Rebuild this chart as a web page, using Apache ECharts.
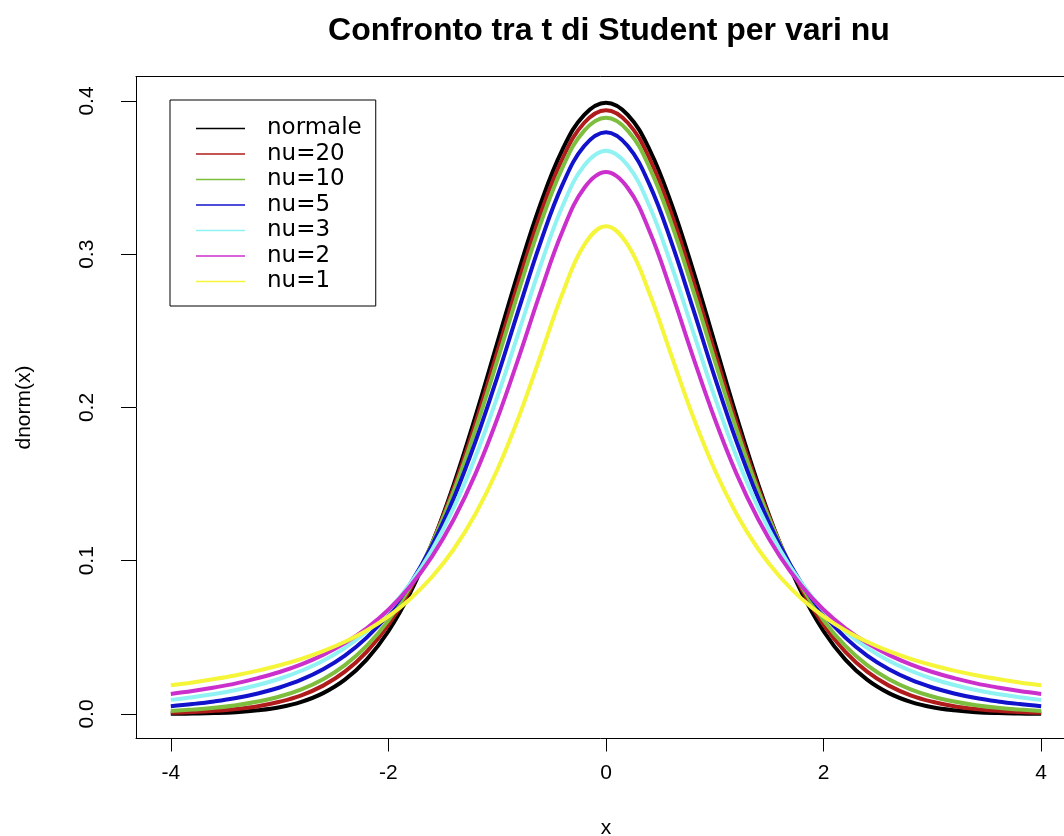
<!DOCTYPE html>
<html>
<head>
<meta charset="utf-8">
<script src="https://cdn.jsdelivr.net/npm/echarts@6/dist/echarts.min.js"></script>
<style>
  html, body { margin: 0; padding: 0; background: #ffffff; overflow: hidden; }
  #chart { width: 1064px; height: 836px; }
</style>
</head>
<body>
<div id="chart"></div>
<script>
// Sample points along x
const xs = [-4,-3.8,-3.6,-3.4,-3.2,-3,-2.8,-2.6,-2.4,-2.2,-2,-1.8,-1.6,-1.4,-1.2,-1,-0.8,-0.6,-0.4,-0.2,0,
            0.2,0.4,0.6,0.8,1,1.2,1.4,1.6,1.8,2,2.2,2.4,2.6,2.8,3,3.2,3.4,3.6,3.8,4];

// Density values at each sample point
const normale = [0.0001,0.0003,0.0006,0.0012,0.0024,0.0044,0.0079,0.0136,0.0224,0.0355,0.0540,0.0790,0.1109,0.1497,0.1942,0.2420,0.2897,0.3332,0.3683,0.3910,0.3989,0.3910,0.3683,0.3332,0.2897,0.2420,0.1942,0.1497,0.1109,0.0790,0.0540,0.0355,0.0224,0.0136,0.0079,0.0044,0.0024,0.0012,0.0006,0.0003,0.0001];
const nu20 = [0.0008,0.0013,0.0021,0.0033,0.0051,0.0080,0.0122,0.0185,0.0276,0.0405,0.0581,0.0814,0.1112,0.1476,0.1899,0.2361,0.2830,0.3267,0.3624,0.3858,0.3940,0.3858,0.3624,0.3267,0.2830,0.2361,0.1899,0.1476,0.1112,0.0814,0.0581,0.0405,0.0276,0.0185,0.0122,0.0080,0.0051,0.0033,0.0021,0.0013,0.0008];
const nu10 = [0.0020,0.0029,0.0040,0.0057,0.0081,0.0114,0.0161,0.0227,0.0319,0.0444,0.0611,0.0831,0.1111,0.1454,0.1857,0.2304,0.2766,0.3203,0.3566,0.3807,0.3891,0.3807,0.3566,0.3203,0.2766,0.2304,0.1857,0.1454,0.1111,0.0831,0.0611,0.0444,0.0319,0.0227,0.0161,0.0114,0.0081,0.0057,0.0040,0.0029,0.0020];
const nu5 = [0.0051,0.0065,0.0082,0.0104,0.0134,0.0173,0.0224,0.0292,0.0381,0.0498,0.0651,0.0848,0.1098,0.1407,0.1777,0.2197,0.2645,0.3081,0.3454,0.3706,0.3796,0.3706,0.3454,0.3081,0.2645,0.2197,0.1777,0.1407,0.1098,0.0848,0.0651,0.0498,0.0381,0.0292,0.0224,0.0173,0.0134,0.0104,0.0082,0.0065,0.0051];
const nu3 = [0.0092,0.0109,0.0130,0.0156,0.0189,0.0230,0.0282,0.0347,0.0431,0.0538,0.0675,0.0850,0.1070,0.1345,0.1678,0.2067,0.2497,0.2930,0.3313,0.3579,0.3676,0.3579,0.3313,0.2930,0.2497,0.2067,0.1678,0.1345,0.1070,0.0850,0.0675,0.0538,0.0431,0.0347,0.0282,0.0230,0.0189,0.0156,0.0130,0.0109,0.0092];
const nu2 = [0.0131,0.0150,0.0173,0.0200,0.0234,0.0274,0.0324,0.0386,0.0463,0.0559,0.0680,0.0834,0.1027,0.1269,0.1567,0.1925,0.2331,0.2758,0.3150,0.3432,0.3536,0.3432,0.3150,0.2758,0.2331,0.1925,0.1567,0.1269,0.1027,0.0834,0.0680,0.0559,0.0463,0.0386,0.0324,0.0274,0.0234,0.0200,0.0173,0.0150,0.0131];
const nu1 = [0.0187,0.0206,0.0228,0.0253,0.0283,0.0318,0.0360,0.0410,0.0471,0.0545,0.0637,0.0751,0.0894,0.1075,0.1305,0.1592,0.1941,0.2341,0.2744,0.3061,0.3183,0.3061,0.2744,0.2341,0.1941,0.1592,0.1305,0.1075,0.0894,0.0751,0.0637,0.0545,0.0471,0.0410,0.0360,0.0318,0.0283,0.0253,0.0228,0.0206,0.0187];

const seriesNames = ['normale', 'nu=20', 'nu=10', 'nu=5', 'nu=3', 'nu=2', 'nu=1'];
const seriesValues = [normale, nu20, nu10, nu5, nu3, nu2, nu1];
const seriesColors = ['#000000', '#B01C1C', '#7DBE3E', '#1212CC', '#90F2F2', '#CC30CC', '#F5F53A'];

const xTicks = [-4, -2, 0, 2, 4];
const yTicks = [0, 0.1, 0.2, 0.3, 0.4];

const FONT = '"Liberation Sans", Arial, Helvetica, sans-serif';
const LEGEND_FONT = '"DejaVu Sans", "Liberation Sans", Arial, sans-serif';

const chart = echarts.init(document.getElementById('chart'), null, { renderer: 'canvas' });

chart.setOption({
  backgroundColor: '#ffffff',
  animation: false,
  title: {
    text: 'Confronto tra t di Student per vari nu',
    left: 604,
    top: 10,
    textAlign: 'center',
    textStyle: { fontFamily: FONT, fontWeight: 'bold', fontSize: 32, color: '#000' }
  },
  legend: {
    orient: 'vertical',
    left: 170,
    top: 100,
    data: seriesNames,
    icon: 'rect',
    itemWidth: 49,
    itemHeight: 1.5,
    itemGap: 2.5,
    padding: [17, 14, 13, 26],
    borderColor: '#000',
    borderWidth: 1,
    backgroundColor: '#fff',
    textStyle: { fontFamily: LEGEND_FONT, fontSize: 23, color: '#000', lineHeight: 20, padding: [0, 0, 0, 17] }
  },
  grid: {
    left: 136,
    top: 76.5,
    width: 940,
    height: 662,
    show: false,
    outerBoundsMode: 'none',
    containLabel: false
  },
  xAxis: [{
    type: 'value',
    min: -4.32,
    max: 4.32,
    name: 'x',
    nameLocation: 'middle',
    nameGap: 79,
    nameTextStyle: { fontFamily: FONT, fontSize: 21, color: '#000' },
    axisLine: { show: true, onZero: false, lineStyle: { color: '#000', width: 1 } },
    splitLine: { show: false },
    axisTick: { show: true, customValues: xTicks, length: 13, lineStyle: { color: '#000', width: 1 } },
    axisLabel: { customValues: xTicks, fontFamily: FONT, fontSize: 21, color: '#000', margin: 24,
                 formatter: v => String(v) }
  }, {
    // top edge of the plot frame
    type: 'value',
    position: 'top',
    min: -4.32,
    max: 4.32,
    axisLine: { show: true, onZero: false, lineStyle: { color: '#000', width: 1 } },
    axisTick: { show: false },
    axisLabel: { show: false },
    splitLine: { show: false }
  }],
  yAxis: {
    type: 'value',
    min: -0.016,
    max: 0.416,
    name: 'dnorm(x)',
    nameLocation: 'middle',
    nameGap: 101,
    nameRotate: 90,
    nameTextStyle: { fontFamily: FONT, fontSize: 21, color: '#000' },
    axisLine: { show: true, onZero: false, lineStyle: { color: '#000', width: 1 } },
    splitLine: { show: false },
    axisTick: { show: true, customValues: yTicks, length: 15, lineStyle: { color: '#000', width: 1 } },
    axisLabel: { customValues: yTicks, rotate: 90, fontFamily: FONT, fontSize: 21, color: '#000', margin: 38,
                 formatter: v => v.toFixed(1) }
  },
  series: seriesNames.map((name, k) => ({
    name: name,
    type: 'line',
    xAxisIndex: 0,
    data: xs.map((x, i) => [x, seriesValues[k][i]]),
    smooth: 0.4,
    symbol: 'none',
    color: seriesColors[k],
    lineStyle: { width: 4, color: seriesColors[k] },
    z: 2 + k
  }))
});
</script>
</body>
</html>
